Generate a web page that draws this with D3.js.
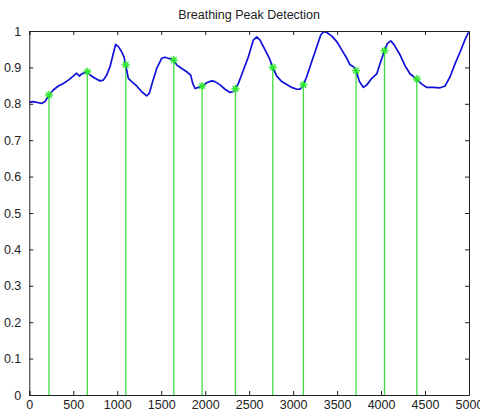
<!DOCTYPE html>
<html><head><meta charset="utf-8">
<script src="https://cdn.jsdelivr.net/npm/d3@7"></script>
<style>body{margin:0;background:#fff}svg{display:block}</style>
</head><body>
<script>
const title = "Breathing Peak Detection";
const xTicks = [0,500,1000,1500,2000,2500,3000,3500,4000,4500,5000];
const yTicks = [0,0.1,0.2,0.3,0.4,0.5,0.6,0.7,0.8,0.9,1];
const signalX = [0,45,102,140,178,224,273,330,387,444,500,538,569,595,633,660,690,747,804,842,880,918,956,982,1013,1050,1077,1096,1126,1164,1221,1278,1335,1365,1403,1449,1505,1543,1581,1619,1642,1676,1733,1790,1835,1858,1885,1923,1964,2017,2074,2112,2169,2226,2283,2321,2344,2378,2435,2491,2548,2586,2624,2681,2730,2768,2814,2871,2928,2984,3041,3079,3117,3155,3212,3269,3314,3345,3383,3440,3496,3553,3610,3648,3686,3716,3754,3800,3838,3895,3951,3989,4039,4073,4111,4149,4217,4274,4331,4407,4463,4520,4596,4672,4729,4786,4843,4900,4956,4994];
const signalY = [0.804,0.806,0.803,0.801,0.806,0.824,0.838,0.849,0.856,0.865,0.876,0.884,0.876,0.882,0.886,0.888,0.879,0.870,0.863,0.865,0.879,0.902,0.939,0.963,0.957,0.943,0.929,0.907,0.870,0.861,0.849,0.833,0.822,0.829,0.861,0.897,0.925,0.928,0.925,0.923,0.920,0.907,0.897,0.888,0.879,0.856,0.842,0.845,0.849,0.858,0.863,0.861,0.852,0.840,0.831,0.834,0.841,0.856,0.893,0.929,0.975,0.984,0.975,0.948,0.925,0.900,0.876,0.861,0.853,0.845,0.840,0.840,0.852,0.875,0.916,0.957,0.989,0.998,0.996,0.986,0.971,0.948,0.925,0.907,0.902,0.891,0.861,0.845,0.852,0.870,0.882,0.911,0.946,0.966,0.973,0.962,0.934,0.904,0.882,0.868,0.854,0.845,0.845,0.844,0.849,0.875,0.911,0.943,0.977,0.996];
const peakX = [224,660,1097,1643,1965,2344,2769,3117,3716,4039,4407];
const peakY = [0.824,0.888,0.907,0.920,0.849,0.841,0.900,0.852,0.891,0.946,0.868];

const W = 480, H = 417;
const m = {left: 29.3, right: 469, top: 31, bottom: 395};
const svg = d3.select("body").append("svg").attr("width", W).attr("height", H);
const x = d3.scaleLinear().domain([0,5000]).range([m.left, m.right]);
const y = d3.scaleLinear().domain([0,1]).range([m.bottom, m.top]);
const font = "Arial, 'Liberation Sans', sans-serif";

// stems
const green = "#3fdc3f";
svg.append("g").selectAll("line").data(peakX).join("line")
  .attr("x1", d => x(d)).attr("x2", d => x(d))
  .attr("y1", y(0)).attr("y2", (d,i) => y(peakY[i]))
  .attr("stroke", green).attr("stroke-width", 1.3);

// signal
const pts = signalX.map((v,i) => [v, signalY[i]]);
svg.append("path").datum(pts)
  .attr("d", d3.line().x(d => x(d[0])).y(d => y(d[1])))
  .attr("fill", "none").attr("stroke", "#1010d8").attr("stroke-width", 1.7).attr("stroke-linejoin","round");

// markers (asterisks)
const mk = svg.append("g").attr("stroke", "#2ee82e").attr("stroke-width", 1.4);
peakX.forEach((px, i) => {
  const cx = x(px), cy = y(peakY[i]), r = 4;
  mk.append("line").attr("x1", cx-r).attr("x2", cx+r).attr("y1", cy).attr("y2", cy);
  mk.append("line").attr("x1", cx).attr("x2", cx).attr("y1", cy-r).attr("y2", cy+r);
  mk.append("line").attr("x1", cx-r*0.7).attr("x2", cx+r*0.7).attr("y1", cy-r*0.7).attr("y2", cy+r*0.7);
  mk.append("line").attr("x1", cx-r*0.7).attr("x2", cx+r*0.7).attr("y1", cy+r*0.7).attr("y2", cy-r*0.7);
});

// axes
const tl = 4;
const axB = svg.append("g").attr("transform", `translate(0,${m.bottom})`)
  .call(d3.axisBottom(x).tickValues(xTicks).tickSize(-tl).tickPadding(8).tickFormat(d3.format("d")));
const axT = svg.append("g").attr("transform", `translate(0,${m.top})`)
  .call(d3.axisTop(x).tickValues(xTicks).tickSize(-tl).tickFormat(""));
const axL = svg.append("g").attr("transform", `translate(${m.left},0)`)
  .call(d3.axisLeft(y).tickValues(yTicks).tickSize(-tl).tickPadding(8).tickFormat(d => d3.format("~g")(d)));
const axR = svg.append("g").attr("transform", `translate(${m.right},0)`)
  .call(d3.axisRight(y).tickValues(yTicks).tickSize(-tl).tickFormat(""));
[axB, axT, axL, axR].forEach(a => {
  a.select(".domain").attr("stroke", "#222").attr("stroke-width", 1);
  a.selectAll(".tick line").attr("stroke", "#222");
  a.selectAll("text").attr("font-family", font).attr("font-size", 12.5).attr("fill", "#222");
});
axB.selectAll("text").attr("dy", "0.5em");

svg.append("text").attr("x", (m.left + m.right)/2).attr("y", 19)
  .attr("text-anchor", "middle").attr("font-family", font).attr("font-size", 12.5).attr("fill", "#222")
  .text(title);
</script>
</body></html>
